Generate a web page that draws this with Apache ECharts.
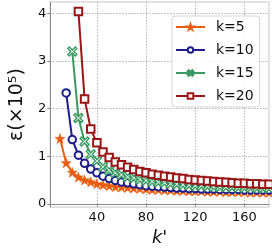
<!DOCTYPE html>
<html><head><meta charset="utf-8">
<script src="https://cdn.jsdelivr.net/npm/echarts@6/dist/echarts.min.js"></script>
<style>html,body{margin:0;padding:0;background:#fff}#c{width:272px;height:252px}</style>
</head><body><div id="c"></div>
<script>
const seriesNames = ['k=5', 'k=10', 'k=15', 'k=20'];
const kp5  = [10,15,20,25,30,35,40,45,50,55,60,65,70,75,80,85,90,95,100,105,110,115,120,125,130,135,140,145,150,155,160,165,170,175,180];
const kp10 = [15,20,25,30,35,40,45,50,55,60,65,70,75,80,85,90,95,100,105,110,115,120,125,130,135,140,145,150,155,160,165,170,175,180];
const kp15 = [20,25,30,35,40,45,50,55,60,65,70,75,80,85,90,95,100,105,110,115,120,125,130,135,140,145,150,155,160,165,170,175,180];
const kp20 = [25,30,35,40,45,50,55,60,65,70,75,80,85,90,95,100,105,110,115,120,125,130,135,140,145,150,155,160,165,170,175,180];
const eps5  = [1.37,0.86,0.66,0.56,0.50,0.46,0.42,0.40,0.38,0.36,0.35,0.34,0.33,0.32,0.31,0.30,0.30,0.29,0.29,0.28,0.28,0.27,0.27,0.27,0.26,0.26,0.26,0.25,0.25,0.25,0.25,0.24,0.24,0.24,0.24];
const eps10 = [2.33,1.35,1.02,0.85,0.73,0.65,0.58,0.53,0.49,0.46,0.44,0.42,0.40,0.38,0.37,0.36,0.35,0.34,0.33,0.33,0.32,0.32,0.31,0.31,0.31,0.30,0.30,0.30,0.30,0.29,0.29,0.29,0.29,0.29];
const eps15 = [3.20,1.80,1.31,1.04,0.90,0.78,0.70,0.65,0.61,0.57,0.54,0.51,0.49,0.47,0.45,0.44,0.42,0.41,0.40,0.39,0.38,0.38,0.37,0.36,0.36,0.35,0.35,0.34,0.34,0.34,0.33,0.33,0.33];
const eps20 = [4.04,2.20,1.57,1.28,1.09,0.97,0.88,0.82,0.77,0.72,0.68,0.65,0.62,0.60,0.58,0.56,0.54,0.53,0.51,0.50,0.49,0.48,0.47,0.46,0.45,0.44,0.43,0.43,0.42,0.42,0.41,0.41];
const xTicks = [40, 80, 120, 160];
const yTicks = [0, 1, 2, 3, 4];

const STAR = 'path://M0,-10L2.35,-3.24L9.51,-3.09L3.8,1.24L5.88,8.09L0,4L-5.88,8.09L-3.8,1.24L-9.51,-3.09L-2.35,-3.24Z';
const XMARK = 'path://M-4,-6L0,-2L4,-6L6,-4L2,0L6,4L4,6L0,2L-4,6L-6,4L-2,0L-6,-4Z';
const colors = ['#e85d0f', '#1c1c8a', '#3a9a62', '#981616'];
const xs = [kp5, kp10, kp15, kp20];
const ys = [eps5, eps10, eps15, eps20];
const symbols = [STAR, 'circle', XMARK, 'rect'];
const sizes = [10, 7.5, 9, 7.5];
const borders = [0.5, 2, 1.4, 2];
const filled = [true, false, false, false];

const font = 'DejaVu Sans';
const chart = echarts.init(document.getElementById('c'), null, {renderer: 'canvas'});
chart.setOption({
  animation: false,
  backgroundColor: '#fff',
  grid: {left: 36, right: 3, top: 2, bottom: 39, show: true, borderColor: '#c8c8c8', borderWidth: 1},
  legend: {
    orient: 'vertical', left: 172, top: 16, width: 85,
    padding: [4, 6, 4, 3], itemGap: 9, itemWidth: 29, itemHeight: 7,
    borderColor: '#d6d6d6', borderWidth: 1, borderRadius: 3,
    backgroundColor: 'rgba(255,255,255,0.85)',
    textStyle: {fontFamily: font, fontSize: 14, color: '#111', padding: [0, 0, 0, 6]},
    data: seriesNames
  },
  xAxis: {
    type: 'value', min: 2, max: 180,
    name: "k'", nameLocation: 'middle', nameGap: 20,
    nameTextStyle: {fontFamily: font, fontSize: 18, fontStyle: 'italic', color: '#111'},
    axisLine: {lineStyle: {color: '#8a8a8a', width: 1}},
    axisTick: {show: true, length: 3, customValues: xTicks, lineStyle: {color: '#8a8a8a'}},
    axisLabel: {customValues: xTicks, fontFamily: font, fontSize: 13, color: '#111', margin: 4},
    splitLine: {show: true, lineStyle: {color: '#b4b4b4', type: [1.5, 1.5], width: 1}}
  },
  yAxis: {
    type: 'value', min: -0.07, max: 4.24,
    name: 'ε(×10⁵)', nameLocation: 'middle', nameGap: 16,
    nameTextStyle: {fontFamily: font, fontSize: 19, color: '#111'},
    axisLine: {show: true, lineStyle: {color: '#8a8a8a', width: 1}},
    axisTick: {show: true, length: 3, customValues: yTicks, lineStyle: {color: '#8a8a8a'}},
    axisLabel: {customValues: yTicks, fontFamily: font, fontSize: 13, color: '#111', margin: 4},
    splitLine: {show: true, lineStyle: {color: '#b4b4b4', type: [1.5, 1.5], width: 1}}
  },
  series: seriesNames.map((n, i) => ({
    name: n, type: 'line',
    data: xs[i].map((x, j) => [x, ys[i][j]]),
    symbol: symbols[i], symbolSize: sizes[i], showSymbol: true,
    lineStyle: {color: colors[i], width: 2},
    itemStyle: {color: filled[i] ? colors[i] : '#fff', borderColor: colors[i], borderWidth: borders[i]},
    color: colors[i]
  }))
});
</script></body></html>
